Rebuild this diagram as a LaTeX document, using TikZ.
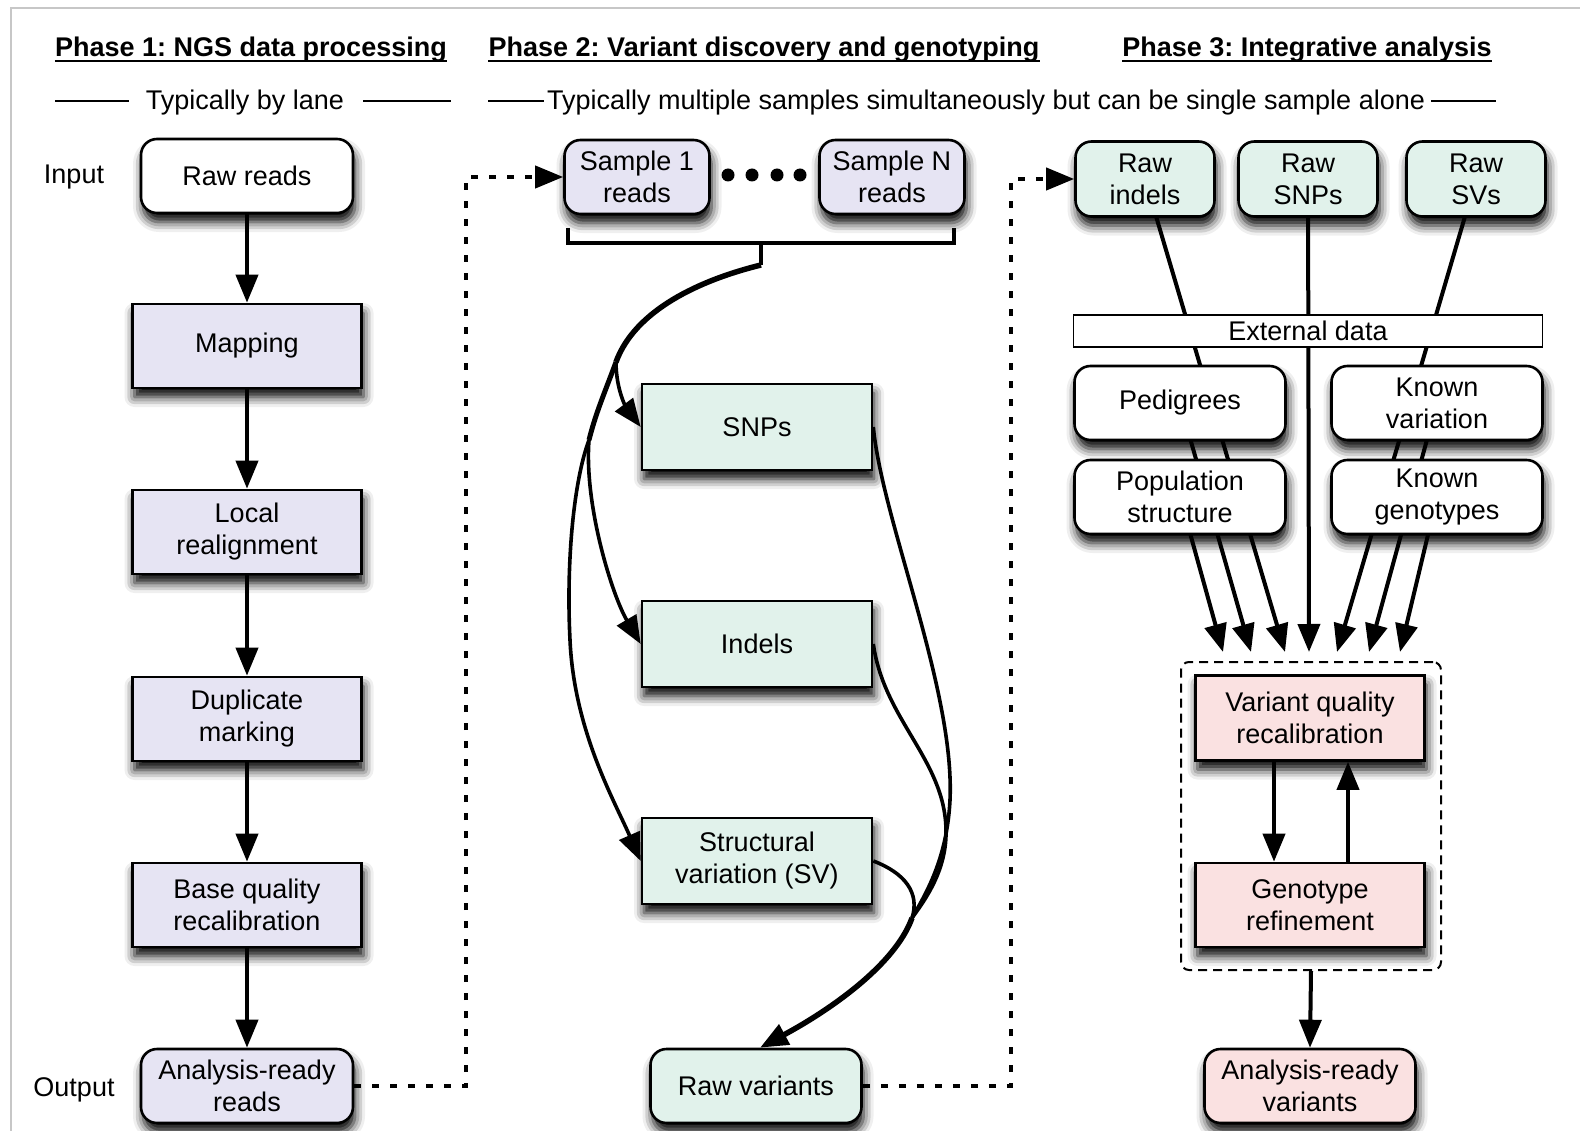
\documentclass[tikz,border=0pt]{standalone}
\usepackage{fontspec}
\setmainfont{Liberation Sans}
\frenchspacing
\usetikzlibrary{arrows.meta,shadows.blur,calc}
\pgfdeclarelayer{back}
\pgfdeclarelayer{bg}
\pgfsetlayers{back,bg,main}

\definecolor{lav}{RGB}{230,228,243}
\definecolor{mint}{RGB}{225,242,235}
\definecolor{rose}{RGB}{250,225,225}

\tikzset{
  txt/.style={font=\fontsize{27}{32}\selectfont, align=center, inner sep=0pt},
  hdr/.style={font=\fontsize{27}{32}\selectfont\bfseries, inner sep=0pt, anchor=base},
  softshadow/.style={blur shadow={shadow xshift=2pt, shadow yshift=-9pt,
      shadow blur radius=10pt, shadow opacity=100}},
  sqbox/.style={txt, draw, line width=2.6pt, minimum width=229pt,
      minimum height=84pt, softshadow},
  rbox/.style={sqbox, rounded corners=16pt, minimum width=212pt, minimum height=74pt},
  tip/.style={-{Triangle[length=28pt,width=22pt]}},
  flow/.style={line width=4pt, tip},
  curve/.style={line width=3.6pt},
  dotline/.style={line width=4pt, dash pattern=on 7pt off 11pt, tip},
}

\begin{document}
\begin{tikzpicture}[x=1pt, y=-1pt]
\begin{pgfonlayer}{back}
  \fill[white] (0,0) rectangle (1580,1131);
\end{pgfonlayer}
\path[use as bounding box] (0,0) rectangle (1580,1131);
% off-page primer so every visible shadow is rendered the same way
\node[softshadow, fill=white, minimum width=10pt, minimum height=10pt] (primer) at (-400,-400) {};
\draw[black!22, line width=1.5pt] (11,1131) -- (11,8) -- (1580,8);

% ---- headings ----
\node[hdr] (h1) at (251,57) {Phase 1: NGS data processing};
\node[hdr] (h2) at (764,57) {Phase 2: Variant discovery and genotyping};
\node[hdr] (h3) at (1307,57) {Phase 3: Integrative analysis};
\foreach \h in {h1,h2,h3}
  \draw[line width=2pt] ($(\h.base west)+(0,4)$) -- ($(\h.base east)+(0,4)$);

\node[txt, anchor=base] (sub1) at (245,110) {Typically by lane};
\node[txt, anchor=base] (sub2) at (986,110) {Typically multiple samples simultaneously but can be single sample alone};
\draw[line width=2pt] (55,101) -- (129,101);
\draw[line width=2pt] (363,101) -- (451,101);
\draw[line width=2pt] (488,101) -- (544,101);
\draw[line width=2pt] (1431,101) -- (1496,101);

% ---- phase 1 ----
\node[txt, anchor=base] (inp) at (74,184) {Input};
\node[txt, anchor=base] (outp) at (74,1096) {Output};
\node[rbox, fill=white] (rr) at (247,176) {Raw reads};
\node[sqbox, fill=lav] (map) at (247,346) {Mapping};
\node[sqbox, fill=lav] (loc) at (247,532) {Local\\realignment};
\node[sqbox, fill=lav] (dup) at (247,719) {Duplicate\\marking};
\node[sqbox, fill=lav] (bqr) at (247,905) {Base quality\\recalibration};
\node[rbox, fill=lav] (ard) at (247,1086) {Analysis-ready\\reads};

\draw[flow] (rr.south) -- (map.north);
\draw[flow] (map.south) -- (loc.north);
\draw[flow] (loc.south) -- (dup.north);
\draw[flow] (dup.south) -- (bqr.north);
\draw[flow] (bqr.south) -- (ard.north);

% ---- phase 2 ----
\node[rbox, fill=lav, minimum width=145pt] (s1) at (637,177) {Sample 1\\reads};
\node[rbox, fill=lav, minimum width=145pt] (sn) at (892,177) {Sample N\\reads};
\foreach \x in {728,752,777,800}
  \fill (\x,175) circle[radius=6.5pt];
\node[sqbox, fill=mint, minimum width=230pt, minimum height=86pt] (snps) at (757,427) {SNPs};
\node[sqbox, fill=mint, minimum width=230pt, minimum height=86pt] (ind) at (757,644) {Indels};
\node[sqbox, fill=mint, minimum width=230pt, minimum height=86pt] (sv) at (757,861) {Structural\\variation (SV)};
\node[rbox, fill=mint, minimum width=211pt] (rv) at (756,1086) {Raw variants};

\draw[dotline] (ard.east) -- ++(112,0) |- (s1.west);

% bracket gathering the samples
\draw[line width=3.5pt] (568,228) -- (568,243) -- (954,243) -- (954,228);
\draw[line width=3.5pt] (761,243) -- (761,265);
\coordinate (fork) at (761,265);
\coordinate (p1) at (616,362);
\coordinate (p2) at (589,440);
\draw[line width=5.5pt] (fork) .. controls (700,280) and (635,310) .. (p1);
\draw[line width=5pt] (p1) .. controls (605,392) and (596,412) .. (p2);
\draw[curve, tip] (p1) .. controls (616,392) and (628,410) .. (snps.west);
\draw[curve, tip] (p2) .. controls (584,505) and (612,595) .. (ind.west);
\draw[curve, tip] (p2) .. controls (574,480) and (566,560) .. (570,640)
   .. controls (574,730) and (614,800) .. (sv.west);

% merging into raw variants
\coordinate (join) at (912,918);
\draw[curve] (snps.east) .. controls (882,520) and (955,690) .. (950,800)
   .. controls (947,860) and (925,895) .. (join);
\draw[curve] (ind.east) .. controls (884,720) and (945,760) .. (946,830)
   .. controls (947,870) and (925,900) .. (join);
\draw[curve] (sv.east) .. controls (905,873) and (920,893) .. (join);
\draw[line width=5.5pt, tip] (join) .. controls (895,965) and (830,1010) .. ([xshift=4pt]rv.north);

% ---- phase 3 ----
\node[rbox, fill=mint, minimum width=139pt, minimum height=75pt] (ri) at (1145,179) {Raw\\indels};
\node[rbox, fill=mint, minimum width=139pt, minimum height=75pt] (rs) at (1308,179) {Raw\\SNPs};
\node[rbox, fill=mint, minimum width=139pt, minimum height=75pt] (rsv) at (1476,179) {Raw\\SVs};
\node[txt, draw, fill=white, line width=1.8pt, minimum width=469pt, minimum height=32pt] (ext) at (1308,331) {External data};
\node[rbox, fill=white, minimum width=211pt] (ped) at (1180,403) {Pedigrees};
\node[rbox, fill=white, minimum width=211pt] (kv) at (1437,403) {Known\\variation};
\node[rbox, fill=white, minimum width=211pt] (pop) at (1180,497) {Population\\structure};
\node[rbox, fill=white, minimum width=211pt] (kg) at (1437,497) {Known\\genotypes};

\node[draw, line width=2pt, dash pattern=on 9pt off 6pt, rounded corners=8pt,
      minimum width=260pt, minimum height=308pt] (grp) at (1311,816) {};
\node[sqbox, fill=rose, minimum height=85pt] (vqr) at (1310,718) {Variant quality\\recalibration};
\node[sqbox, fill=rose] (gr) at (1310,905) {Genotype\\refinement};
\node[rbox, fill=rose, minimum width=211pt] (arv) at (1310,1086) {Analysis-ready\\variants};

\draw[dotline] (rv.east) -- ++(148,0) |- (ri.west);

\begin{pgfonlayer}{bg}
  \draw[flow] (pop.center) -- ($(grp.north)+(-88,-9)$);
  \draw[flow] (ped.center) -- ($(grp.north)+(-60,-9)$);
  \draw[flow] (ri.center)  -- ($(grp.north)+(-26,-9)$);
  \draw[flow] (rs.center)  -- ($(grp.north)+(-2,-9)$);
  \draw[flow] (rsv.center) -- ($(grp.north)+(26,-9)$);
  \draw[flow] (kv.center)  -- ($(grp.north)+(58,-9)$);
  \draw[flow] (kg.center)  -- ($(grp.north)+(89,-9)$);
\end{pgfonlayer}

\draw[flow] ([xshift=-36pt]vqr.south) -- ([xshift=-36pt]gr.north);
\draw[flow] ([xshift=38pt]gr.north) -- ([xshift=38pt]vqr.south);
\draw[flow] (grp.south) -- (arv.north);
\end{tikzpicture}
\end{document}
